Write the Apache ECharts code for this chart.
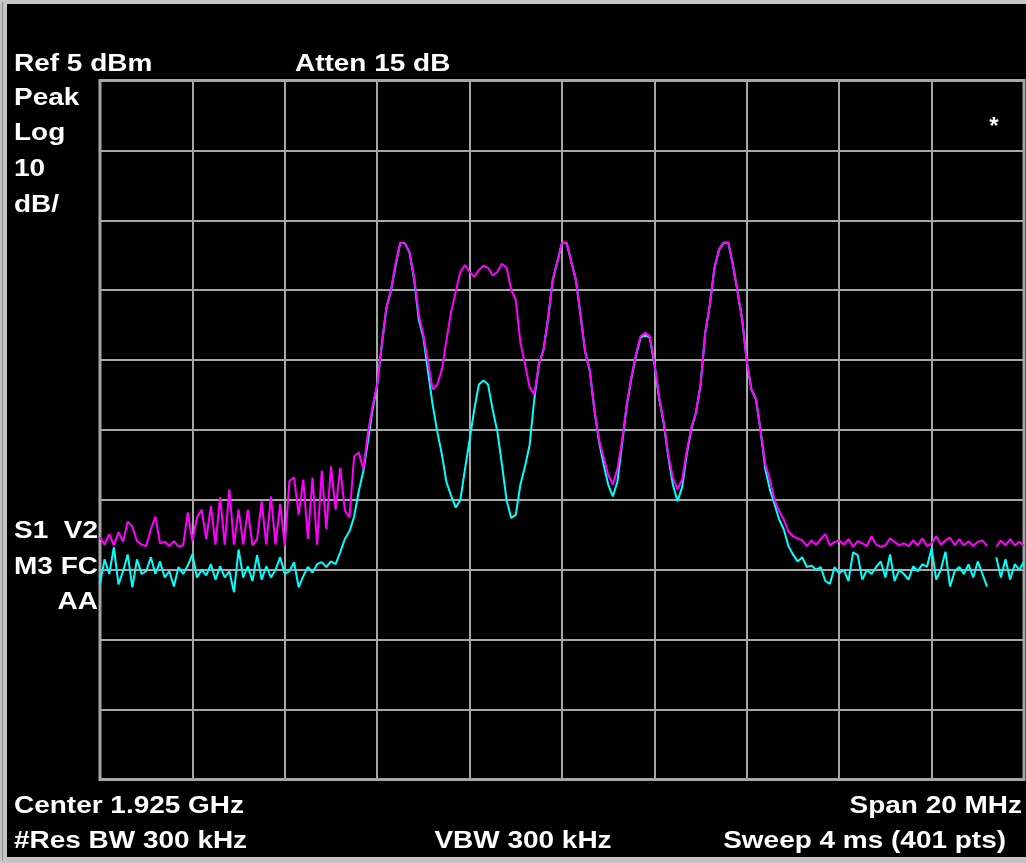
<!DOCTYPE html>
<html><head><meta charset="utf-8">
<script src="https://cdn.jsdelivr.net/npm/echarts@6/dist/echarts.min.js"></script>
<style>html,body{margin:0;padding:0;background:#000;overflow:hidden}#c{width:1026px;height:863px}</style>
</head><body><div id="c"></div>
<script>
// Sweep: 201 samples across the 20 MHz span, offsets in MHz from the centre (1.925 GHz)
const spanStartMHz = -10;
const spanStepMHz = 0.1;

// Trace 1 (magenta), dBm
const traceMagenta = [
 -60.4,-61.4,-59.9,-61.5,-59.6,-61.0,-58.1,-58.8,-60.9,-61.4,
 -61.6,-59.2,-57.4,-61.2,-61.0,-61.6,-60.9,-61.7,-61.5,-56.8,
 -60.9,-57.5,-56.4,-60.6,-55.9,-61.4,-54.6,-61.4,-53.5,-61.4,
 -56.4,-61.4,-56.4,-61.5,-60.6,-55.2,-61.4,-54.5,-61.4,-55.6,
 -61.6,-52.3,-51.8,-57.1,-52.1,-60.6,-51.8,-61.4,-50.8,-59.2,
 -50.2,-56.4,-50.4,-56.5,-57.5,-48.8,-48.2,-50.6,-45.4,-41.6,
 -38.5,-32.8,-27.5,-25.0,-21.1,-18.2,-18.3,-19.6,-23.2,-28.5,
 -31.4,-35.2,-39.2,-38.5,-36.4,-32.1,-28.1,-25.2,-22.4,-21.4,
 -22.4,-23.1,-22.1,-21.5,-21.8,-22.9,-22.4,-21.2,-21.8,-24.9,
 -26.4,-32.5,-35.6,-38.9,-39.9,-35.6,-33.5,-29.0,-23.5,-20.9,
 -18.2,-18.2,-20.9,-23.5,-28.5,-33.8,-36.4,-42.1,-46.4,-48.9,
 -51.4,-52.8,-50.6,-46.6,-41.4,-37.5,-34.2,-31.6,-31.1,-31.6,
 -35.4,-40.2,-43.8,-48.5,-51.8,-53.5,-52.1,-48.1,-44.6,-42.5,
 -38.5,-31.1,-27.1,-21.8,-19.2,-18.2,-18.2,-21.4,-25.2,-29.2,
 -35.2,-39.2,-40.6,-45.2,-49.9,-52.1,-55.0,-56.6,-57.8,-59.5,
 -60.2,-60.5,-60.8,-61.6,-60.8,-61.4,-60.6,-59.9,-61.5,-61.0,
 -60.8,-61.4,-60.6,-61.7,-60.9,-61.2,-61.6,-60.2,-61.4,-61.7,
 -61.5,-60.5,-61.0,-61.5,-61.2,-61.6,-60.8,-61.5,-60.5,-61.6,
 -61.2,-60.2,-61.4,-60.8,-60.4,-61.5,-60.6,-61.5,-60.9,-61.6,
 -61.0,-60.8,-61.6,null,-61.7,-60.8,-61.5,-60.6,-61.5,-61.0,
 -61.6
];

// Trace 2 (cyan), dBm
const traceCyan = [
 -67.0,-63.5,-65.6,-61.8,-67.1,-65.2,-62.8,-67.5,-63.5,-65.6,
 -65.2,-63.2,-65.6,-63.8,-66.1,-65.2,-67.4,-64.6,-65.6,-64.4,
 -62.8,-66.1,-65.0,-65.8,-64.2,-66.4,-64.5,-66.1,-65.2,-68.2,
 -62.1,-66.1,-64.5,-66.6,-62.9,-66.4,-64.5,-66.1,-65.0,-63.2,
 -65.6,-65.2,-63.9,-67.5,-65.9,-64.6,-65.4,-64.2,-63.9,-64.6,
 -63.8,-64.2,-62.5,-60.6,-59.5,-57.4,-53.8,-50.9,-46.6,-42.1,
 -38.5,-32.8,-27.5,-25.0,-21.4,-18.2,-18.3,-19.6,-23.5,-29.2,
 -31.8,-36.6,-41.4,-45.2,-48.5,-52.5,-54.4,-56.1,-55.0,-50.6,
 -46.4,-42.1,-38.5,-37.9,-38.5,-42.1,-45.2,-49.9,-55.0,-57.6,
 -57.1,-52.8,-50.2,-47.1,-40.6,-35.6,-33.5,-29.0,-23.5,-20.9,
 -18.2,-18.2,-20.9,-23.5,-28.5,-33.8,-36.4,-42.1,-46.6,-49.9,
 -52.8,-54.5,-52.4,-47.0,-41.6,-37.7,-34.4,-31.8,-31.4,-31.8,
 -35.6,-40.4,-44.0,-48.8,-52.8,-55.2,-53.2,-48.5,-44.8,-42.5,
 -38.5,-31.1,-27.1,-21.8,-19.2,-18.2,-18.2,-21.4,-25.2,-29.2,
 -35.2,-39.2,-40.6,-45.2,-50.6,-53.5,-55.6,-57.8,-59.2,-61.6,
 -62.8,-63.8,-63.2,-64.6,-64.4,-65.0,-64.6,-66.6,-67.0,-64.6,
 -65.5,-65.0,-66.6,-62.5,-62.9,-66.4,-65.0,-65.6,-64.6,-63.8,
 -66.1,-62.8,-66.6,-65.0,-65.6,-66.4,-64.5,-65.2,-64.2,-64.6,
 -61.9,-66.4,-65.0,-62.4,-67.4,-65.2,-64.6,-65.6,-64.2,-66.1,
 -63.8,-65.6,-67.4,null,-63.2,-66.1,-63.5,-66.4,-64.2,-65.0,
 -63.8
];

// Screen annotations
const topLabels = ['Ref 5 dBm', 'Atten 15 dB'];
const leftLabels = ['Peak', 'Log', '10', 'dB/'];
const statusLeft = ['S1', 'M3'];
const statusRight = ['V2', 'FC', 'AA'];
const bottomLabels = ['Center 1.925 GHz', 'Span 20 MHz', '#Res BW 300 kHz', 'VBW 300 kHz', 'Sweep 4 ms (401 pts)'];

const refLevel = 5, dbPerDiv = 10, divisions = 10;

function toPairs(arr) {
  return arr.map((v, i) => [spanStartMHz + i * spanStepMHz, v]);
}

const FONT = 'bold 24px "Liberation Sans", Arial, sans-serif';
function txt(s, x, y, align) {
  return {
    type: 'text', x: x, y: y, scaleX: 1.165, silent: true, z: 100,
    style: { text: s, x: 0, y: 0, fill: '#ffffff', font: FONT,
      align: align || 'left', textAlign: align || 'left',
      verticalAlign: 'middle', textVerticalAlign: 'middle' }
  };
}

const graphics = [
  { type: 'rect', shape: { x: 0, y: 0, width: 1026, height: 4 }, style: { fill: '#c4c4c4' }, silent: true },
  { type: 'rect', shape: { x: 0, y: 857, width: 1026, height: 6 }, style: { fill: '#c4c4c4' }, silent: true },
  { type: 'rect', shape: { x: 0, y: 0, width: 7, height: 863 }, style: { fill: '#c4c4c4' }, silent: true },
  { type: 'rect', shape: { x: 2, y: 2, width: 1, height: 858 }, style: { fill: '#8a8a8a' }, silent: true },
  txt(topLabels[0], 14, 64),
  txt(topLabels[1], 295, 64),
  txt(leftLabels[0], 14, 98),
  txt(leftLabels[1], 14, 133),
  txt(leftLabels[2], 14, 169),
  txt(leftLabels[3], 14, 205),
  txt(statusLeft[0], 14, 531.5),
  txt(statusRight[0], 98, 531.5, 'right'),
  txt(statusLeft[1], 14, 567),
  txt(statusRight[1], 98, 567, 'right'),
  txt(statusRight[2], 98, 602, 'right'),
  txt(bottomLabels[0], 14, 806),
  txt(bottomLabels[1], 1022, 806, 'right'),
  txt(bottomLabels[2], 14, 841),
  txt(bottomLabels[3], 523, 841, 'center'),
  txt(bottomLabels[4], 1006, 841, 'right'),
  { type: 'text', x: 994, y: 127, silent: true, z: 100,
    style: { text: '*', x: 0, y: 0, fill: '#ffffff', font: 'bold 24px "Liberation Sans", Arial, sans-serif',
      align: 'center', textAlign: 'center', verticalAlign: 'middle', textVerticalAlign: 'middle' } }
];

const chart = echarts.init(document.getElementById('c'), null, { renderer: 'canvas' });
chart.setOption({
  backgroundColor: '#000000',
  animation: false,
  grid: { left: 100, top: 80.5, width: 924, height: 699, show: true,
    borderColor: '#a6a6a6', borderWidth: 3, backgroundColor: '#000000' },
  xAxis: [{
    type: 'value', min: spanStartMHz, max: -spanStartMHz, interval: 2,
    axisLine: { show: false }, axisTick: { show: false }, axisLabel: { show: false },
    splitLine: { show: true, lineStyle: { color: '#a6a6a6', width: 2 } }
  }],
  yAxis: [{
    type: 'value', min: refLevel - dbPerDiv * divisions, max: refLevel, show: false
  }, {
    type: 'value', min: 0, max: divisions, interval: 1, position: 'left',
    axisLine: { show: false }, axisTick: { show: false }, axisLabel: { show: false },
    splitLine: { show: true, lineStyle: { color: '#a6a6a6', width: 2 } }
  }],
  graphic: graphics,
  series: [{
    type: 'line', yAxisIndex: 0, data: toPairs(traceCyan), showSymbol: false, symbol: 'none',
    connectNulls: false, lineStyle: { color: '#00ffff', width: 2 }, itemStyle: { color: '#00ffff' }, z: 3
  }, {
    type: 'line', yAxisIndex: 0, data: toPairs(traceMagenta), showSymbol: false, symbol: 'none',
    connectNulls: false, lineStyle: { color: '#ff00ff', width: 2 }, itemStyle: { color: '#ff00ff' }, z: 4
  }]
});
</script></body></html>
